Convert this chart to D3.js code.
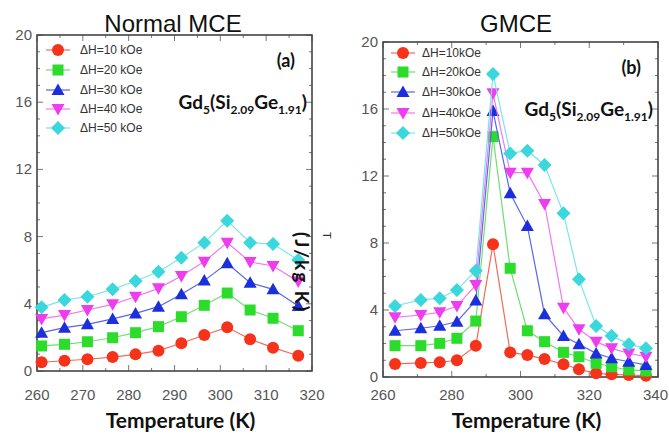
<!DOCTYPE html>
<html>
<head>
<meta charset="utf-8">
<script src="https://cdn.jsdelivr.net/npm/d3@7"></script>
<style>
  body { margin: 0; background: #fff; }
  svg { display: block; }
</style>
</head>
<body>
<svg id="chart" width="669" height="435"></svg>
<script>
// ---- data ----
var seriesNames = ['10', '20', '30', '40', '50']

var tempA = [261, 266, 271, 276.5, 281.5, 286.5, 291.5, 296.5, 301.5, 306.5, 311.5, 317]
var dsA10 = [0.52, 0.61, 0.70, 0.83, 0.99, 1.21, 1.65, 2.14, 2.60, 1.89, 1.39, 0.91]
var dsA20 = [1.49, 1.59, 1.74, 1.98, 2.28, 2.64, 3.23, 3.91, 4.64, 3.63, 3.14, 2.40]
var dsA30 = [2.28, 2.58, 2.78, 3.10, 3.43, 3.83, 4.57, 5.38, 6.41, 5.26, 4.86, 3.87]
var dsA40 = [3.10, 3.33, 3.63, 3.97, 4.42, 4.92, 5.65, 6.51, 7.64, 6.49, 6.25, 5.32]
var dsA50 = [3.79, 4.23, 4.42, 4.86, 5.36, 5.91, 6.74, 7.64, 8.95, 7.64, 7.56, 6.61]

var tempB = [263.5, 271, 276.5, 281.5, 287, 292, 297, 302, 307, 312.5, 317, 322, 326.5, 331.5, 336.5]
var dsB10 = [0.78, 0.84, 0.88, 1.00, 1.87, 7.92, 1.47, 1.31, 1.07, 0.76, 0.46, 0.22, 0.16, 0.12, 0.08]
var dsB20 = [1.87, 1.87, 2.01, 2.31, 3.34, 14.35, 6.49, 2.76, 2.11, 1.47, 1.21, 0.82, 0.61, 0.42, 0.36]
var dsB30 = [2.76, 2.91, 3.06, 3.30, 4.56, 15.88, 10.97, 9.01, 3.74, 2.45, 1.95, 1.41, 1.12, 0.91, 0.72]
var dsB40 = [3.56, 3.70, 3.86, 4.24, 5.49, 16.94, 12.20, 12.20, 10.33, 4.14, 2.85, 2.11, 1.71, 1.41, 1.21]
var dsB50 = [4.24, 4.60, 4.70, 5.19, 6.35, 18.09, 13.35, 13.51, 12.66, 9.77, 5.83, 3.04, 2.47, 1.95, 1.71]

var ticksAx = [260, 270, 280, 290, 300, 310, 320]
var ticksBx = [260, 280, 300, 320, 340]
var ticksY = [0, 4, 8, 12, 16, 20]

// ---- style ----
var colors = ['#f5331a', '#2bdc2b', '#1c2fdc', '#ee3cee', '#3ad8dc']
var lineColors = ['#f36a5a', '#6fe06f', '#5a66e6', '#f07af0', '#7ae6e8']
var shapes = ['circle', 'square', 'up', 'down', 'diamond']

var svg = d3.select('#chart')

function marker(g, shape, cx, cy, color) {
    if (shape === 'circle') {
        g.append('circle').attr('cx', cx).attr('cy', cy).attr('r', 6).attr('fill', color)
    } else if (shape === 'square') {
        g.append('rect').attr('x', cx - 5.5).attr('y', cy - 5.5).attr('width', 11).attr('height', 11).attr('fill', color)
    } else if (shape === 'up') {
        g.append('path').attr('d', 'M' + cx + ',' + (cy - 6.5) + 'L' + (cx + 6.5) + ',' + (cy + 5) + 'L' + (cx - 6.5) + ',' + (cy + 5) + 'Z').attr('fill', color)
    } else if (shape === 'down') {
        g.append('path').attr('d', 'M' + cx + ',' + (cy + 6.5) + 'L' + (cx + 6.5) + ',' + (cy - 5) + 'L' + (cx - 6.5) + ',' + (cy - 5) + 'Z').attr('fill', color)
    } else {
        g.append('path').attr('d', 'M' + cx + ',' + (cy - 7) + 'L' + (cx + 7) + ',' + cy + 'L' + cx + ',' + (cy + 7) + 'L' + (cx - 7) + ',' + cy + 'Z').attr('fill', color)
    }
}

function drawPanel(p) {
    var x = d3.scaleLinear().domain(p.xDomain).range([p.left, p.right])
    var y = d3.scaleLinear().domain([0, 20]).range([p.bottom, p.top])
    var g = svg.append('g')

    // minor + major ticks, inward on all sides
    var xMinor = d3.range(p.xDomain[0], p.xDomain[1] + 0.1, p.xMinorStep)
    xMinor.forEach(function (v) {
        var len = p.xTicks.indexOf(v) >= 0 ? 6 : 3
        g.append('line').attr('x1', x(v)).attr('x2', x(v)).attr('y1', p.bottom).attr('y2', p.bottom - len).attr('stroke', '#777')
        g.append('line').attr('x1', x(v)).attr('x2', x(v)).attr('y1', p.top).attr('y2', p.top + len).attr('stroke', '#777')
    })
    d3.range(0, 20.1, 1).forEach(function (v) {
        var len = ticksY.indexOf(v) >= 0 ? 6 : 3
        g.append('line').attr('y1', y(v)).attr('y2', y(v)).attr('x1', p.left).attr('x2', p.left + len).attr('stroke', '#777')
        g.append('line').attr('y1', y(v)).attr('y2', y(v)).attr('x1', p.right).attr('x2', p.right - len).attr('stroke', '#777')
    })

    g.append('rect').attr('x', p.left).attr('y', p.top)
        .attr('width', p.right - p.left).attr('height', p.bottom - p.top)
        .attr('fill', 'none').attr('stroke', '#444').attr('stroke-width', 1.6)

    // tick labels
    g.selectAll('.xt').data(p.xTicks).enter().append('text')
        .attr('x', function (d) { return x(d) }).attr('y', 400)
        .attr('text-anchor', function (d, i) { return (p.lastEnd && i === p.xTicks.length - 1) ? 'end' : 'middle' })
        .attr('dx', function (d, i) { return (p.lastEnd && i === p.xTicks.length - 1) ? 10 : 0 })
        .attr('font-family', 'Liberation Sans Narrow, Liberation Sans, sans-serif')
        .attr('font-size', 15).attr('fill', '#555').text(function (d) { return d })
    g.selectAll('.yt').data(ticksY).enter().append('text')
        .attr('x', p.left - 5).attr('y', function (d) { return y(d) + 5 })
        .attr('text-anchor', 'end').attr('font-family', 'Liberation Sans Narrow, Liberation Sans, sans-serif')
        .attr('font-size', 15).attr('fill', '#555').text(function (d) { return d })

    // series
    var line = d3.line().x(function (d) { return x(d[0]) }).y(function (d) { return y(d[1]) })
    p.series.forEach(function (vals, i) {
        var pts = p.temps.map(function (t, j) { return [t, vals[j]] })
        g.append('path').datum(pts).attr('d', line).attr('fill', 'none')
            .attr('stroke', lineColors[i]).attr('stroke-width', 1.2)
        pts.forEach(function (d) { marker(g, shapes[i], x(d[0]), y(d[1]), colors[i]) })
    })

    // legend
    seriesNames.forEach(function (n, i) {
        var ly = p.legY[i]
        g.append('line').attr('x1', p.legX - 12).attr('x2', p.legX + 12).attr('y1', ly).attr('y2', ly)
            .attr('stroke', lineColors[i]).attr('stroke-width', 1.2)
        marker(g, shapes[i], p.legX, ly, colors[i])
        g.append('text').attr('x', p.legX + p.legGap).attr('y', ly + 4)
            .attr('font-family', 'Liberation Sans, Arial, sans-serif').attr('font-size', 12).attr('fill', '#333')
            .text('\u0394H=' + n + p.unit)
    })

    // titles and annotations
    g.append('text').attr('x', p.titleX).attr('y', 32).attr('text-anchor', 'middle')
        .attr('font-family', 'Liberation Sans, Arial, sans-serif').attr('font-size', 24).attr('fill', '#111')
        .text(p.title)
    g.append('text').attr('x', (p.left + p.right) / 2 + 6).attr('y', 428).attr('text-anchor', 'middle')
        .attr('font-family', 'Lato, sans-serif').attr('font-weight', 'bold').attr('font-size', 21).attr('fill', '#111')
        .text('Temperature (K)')
    g.append('text').attr('x', p.right - 17).attr('y', p.top + 32).attr('text-anchor', 'end')
        .attr('font-family', 'Lato, sans-serif').attr('font-weight', 'bold').attr('font-size', 18).attr('fill', '#111')
        .text(p.tag)
    var f = g.append('text').attr('x', p.right - 5).attr('y', p.top + 74).attr('text-anchor', 'end')
        .attr('font-family', 'Lato, sans-serif').attr('font-weight', 'bold').attr('font-size', 19).attr('fill', '#111')
    f.append('tspan').text('Gd')
    f.append('tspan').attr('font-size', 12).attr('dy', 5).text('5')
    f.append('tspan').attr('dy', -5).text('(Si')
    f.append('tspan').attr('font-size', 12).attr('dy', 5).text('2.09')
    f.append('tspan').attr('dy', -5).text('Ge')
    f.append('tspan').attr('font-size', 12).attr('dy', 5).text('1.91')
    f.append('tspan').attr('dy', -5).text(')')
}

drawPanel({
    left: 37, right: 312, top: 35, bottom: 371,
    xDomain: [260, 320], xTicks: ticksAx, xMinorStep: 5,
    temps: tempA, series: [dsA10, dsA20, dsA30, dsA40, dsA50],
    legX: 58, legGap: 22, legY: [50, 70, 90, 109, 128], unit: ' kOe',
    title: 'Normal MCE', titleX: 173, tag: '(a)', lastEnd: false
})

drawPanel({
    left: 383, right: 658, top: 42, bottom: 377,
    xDomain: [260, 340], xTicks: ticksBx, xMinorStep: 10,
    temps: tempB, series: [dsB10, dsB20, dsB30, dsB40, dsB50],
    legX: 403, legGap: 19, legY: [53, 72, 92, 113, 133], unit: 'kOe',
    title: 'GMCE', titleX: 516, tag: '(b)', lastEnd: true
})

// garbled y-axis label sitting on the left panel's right edge
svg.append('text').attr('transform', 'translate(295,232) rotate(90)')
    .attr('font-family', 'Lato, sans-serif').attr('font-weight', 'bold').attr('font-size', 19)
    .attr('letter-spacing', 2).attr('fill', '#111')
    .text('(J/kg K)')
svg.append('text').attr('transform', 'translate(323,232) rotate(90)')
    .attr('font-family', 'Liberation Sans, sans-serif').attr('font-size', 11).attr('fill', '#333')
    .text('T')
</script>
</body>
</html>
